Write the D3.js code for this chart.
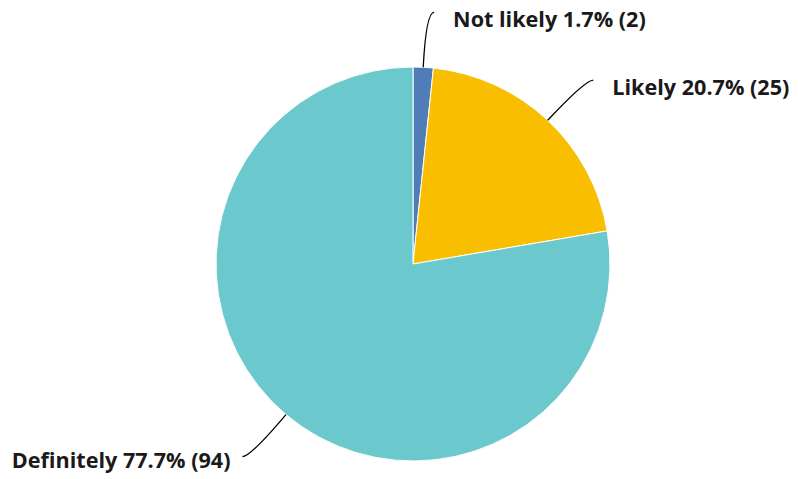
<!DOCTYPE html>
<html><head><meta charset="utf-8">
<script src="https://cdn.jsdelivr.net/npm/d3@7"></script>
<style>body{margin:0;background:#fff}svg{display:block}</style>
</head><body>
<svg id="c" width="798" height="479"></svg>
<script>
const categories = ["Not likely", "Likely", "Definitely"];
const counts = [2, 25, 94];
const percents = ["1.7%", "20.7%", "77.7%"];
const colors = ["#507cb8", "#f9be00", "#6bc8cd"];

const W = 798, H = 479, cx = 413, cy = 264, R = 197;
const svg = d3.select("#c");
const g = svg.append("g").attr("transform", `translate(${cx},${cy})`);
const data = categories.map((c, i) => ({name: c, value: counts[i], pct: percents[i], color: colors[i]}));
const pie = d3.pie().value(d => d.value).sort(null);
const arcs = pie(data);
const arc = d3.arc().innerRadius(0).outerRadius(R);

g.selectAll("path.slice").data(arcs).join("path")
  .attr("class", "slice")
  .attr("d", arc)
  .attr("fill", d => d.data.color)
  .attr("stroke", "#fff").attr("stroke-width", 1);

const ext = 55, hor = 8;
arcs.forEach(a => {
  const m = (a.startAngle + a.endAngle) / 2;
  const sx = R * Math.sin(m), sy = -R * Math.cos(m);
  const kx = (R + ext) * Math.sin(m), ky = -(R + ext) * Math.cos(m);
  const right = Math.sin(m) >= 0;
  const ex = kx + (right ? hor : -hor), ey = ky;
  const p = d3.path();
  p.moveTo(sx, sy);
  p.quadraticCurveTo(kx, ky, ex, ey);
  g.append("path").attr("d", p.toString()).attr("fill", "none")
    .attr("stroke", "#000").attr("stroke-width", 1.3);
  g.append("text")
    .attr("x", ex + (right ? 19 : -12)).attr("y", ey + (right ? 7 : 4))
    .attr("dy", "0.35em")
    .attr("text-anchor", right ? "start" : "end")
    .attr("font-family", "'Open Sans', sans-serif").attr("font-weight", "bold")
    .attr("font-size", 21.6).attr("fill", "#1a1a1a")
    .text(`${a.data.name} ${a.data.pct} (${a.data.value})`);
});
</script>
</body></html>
